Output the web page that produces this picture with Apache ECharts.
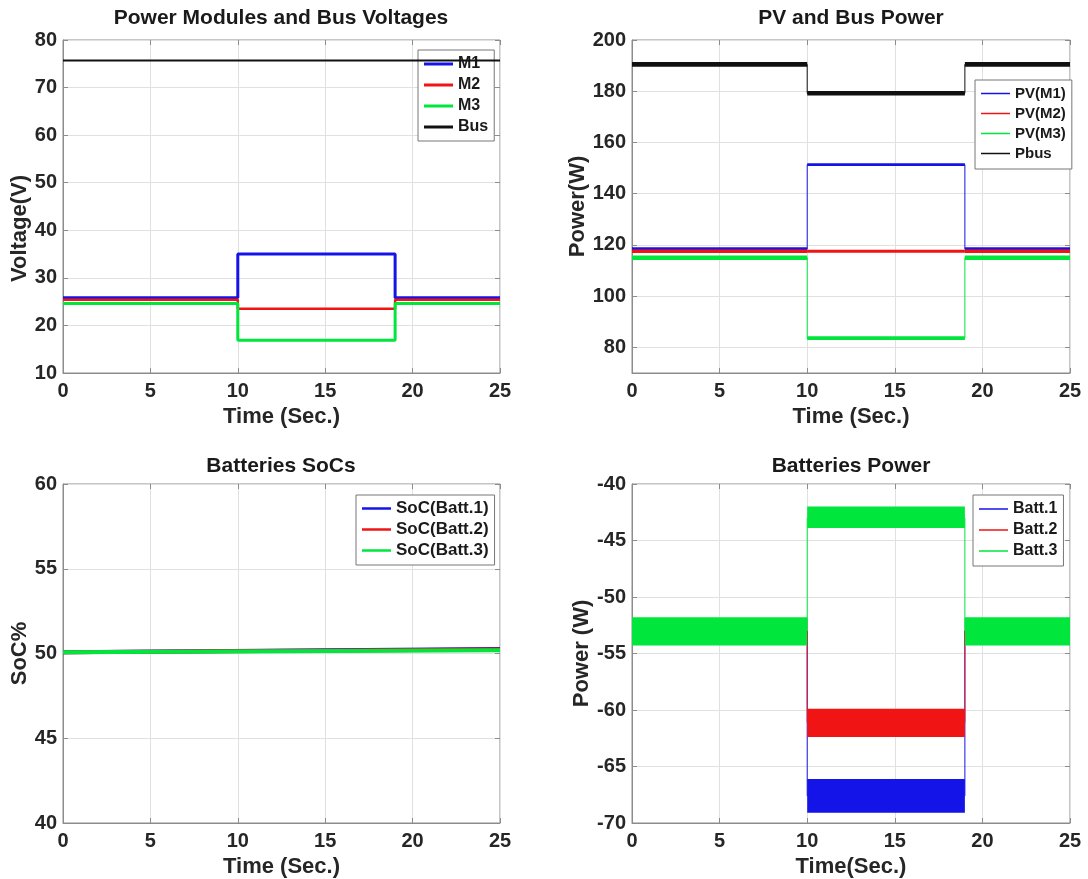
<!DOCTYPE html>
<html>
<head>
<meta charset="utf-8">
<script src="https://cdn.jsdelivr.net/npm/echarts@6/dist/echarts.min.js"></script>
<style>
html,body{margin:0;padding:0;background:#ffffff;}
#chart{width:1088px;height:879px;}
</style>
</head>
<body>
<div id="chart"></div>
<script>
// ---------------- DATA ----------------
const stepTimes = [0, 10, 19, 25];            // step change instants (s)

// Panel 1: Power Modules and Bus Voltages (V)
const m1Volt  = [25.8, 35.0, 25.8, 25.8];
const m2Volt  = [25.4, 23.5, 25.4, 25.4];
const m3Volt  = [24.6, 16.9, 24.6, 24.6];
const busVolt = [75.7, 75.7, 75.7, 75.7];

// Panel 2: PV and Bus Power (W) - mean levels and noise bands per segment
const pvM1 = [118.4, 151.3, 118.4, 118.4];
const pvM2 = [117.5, 117.5, 117.5, 117.5];
const pvM3 = [115.0, 83.6, 115.0, 115.0];
const pBus = [190.5, 179.2, 190.5, 190.5];
const pvM1Band = [[117.7, 119.1], [150.8, 151.9], [117.7, 119.1]];
const pvM2Band = [[116.8, 118.2], [116.9, 118.1], [116.8, 118.2]];
const pvM3Band = [[114.1, 115.9], [82.9, 84.3], [114.1, 115.9]];
const pBusBand = [[189.6, 191.4], [178.3, 180.1], [189.6, 191.4]];

// Panel 3: Batteries SoCs (%)
const socTimes = [0, 25];
const soc1 = [50.08, 50.26];
const soc2 = [50.08, 50.23];
const soc3 = [50.07, 50.19];

// Panel 4: Batteries Power (W) - mean levels and noise bands per segment
const batt1 = [-53.0, -67.6, -53.0, -53.0];
const batt2 = [-53.0, -61.1, -53.0, -53.0];
const batt3 = [-53.0, -43.0, -53.0, -53.0];
const batt1Band = [[-54.2, -51.9], [-69.1, -66.1], [-54.2, -51.9]];
const batt2Band = [[-54.2, -51.9], [-62.4, -59.9], [-54.2, -51.9]];
const batt3Band = [[-54.3, -51.8], [-43.9, -42.0], [-54.3, -51.8]];

// Axis tick settings
const timeAxis = {min: 0, max: 25, interval: 5};
const voltAxis = {min: 10, max: 80, interval: 10};
const pvAxis   = {min: 70, max: 200, step: 20};
const socAxis  = {min: 40, max: 60, interval: 5};
const battAxis = {min: -70, max: -40, interval: 5};

// ---------------- STYLE ----------------
const BLUE = '#1414e8', RED = '#f01414', GREEN = '#00e63c', BLACK = '#111111';
const TXT = '#262626', AXC = '#8c8c8c', GRIDC = '#e0e0e0';
const FONT = 'Liberation Sans, Arial, sans-serif';

const grids = [
  {left: 63,  top: 40,  width: 437, height: 333},
  {left: 632, top: 40,  width: 438, height: 333},
  {left: 63,  top: 484, width: 437, height: 340},
  {left: 632, top: 484, width: 438, height: 340}
].map(g => Object.assign({show: true, borderColor: AXC, borderWidth: 1, backgroundColor: '#fff'}, g));

function stepData(times, levels) { return times.map((t, i) => [t, levels[i]]); }
function bandData(times, band) { return band.map((b, i) => [times[i], times[i + 1], b[0], b[1]]); }

function xAx(idx, name) {
  return {
    type: 'value', gridIndex: idx, position: 'bottom', min: timeAxis.min, max: timeAxis.max, interval: timeAxis.interval,
    name: name, nameLocation: 'middle', nameGap: 33,
    nameTextStyle: {fontSize: 22, fontWeight: 'bold', color: TXT, fontFamily: FONT},
    axisLine: {show: true, onZero: false, lineStyle: {color: AXC}},
    axisTick: {show: true, inside: true, length: 5, lineStyle: {color: AXC}},
    axisLabel: {fontSize: 20, fontWeight: 'bold', color: TXT, margin: 8, fontFamily: FONT},
    splitLine: {show: true, lineStyle: {color: GRIDC, width: 1}}
  };
}
// mirror axis on the opposite side: inward ticks only (box style)
function xTop(idx) {
  return {
    type: 'value', gridIndex: idx, position: 'top', min: timeAxis.min, max: timeAxis.max, interval: timeAxis.interval,
    axisLine: {show: false, onZero: false}, axisLabel: {show: false}, splitLine: {show: false},
    axisTick: {show: true, inside: true, length: 5, lineStyle: {color: AXC}}
  };
}
function yAx(idx, name, cfg, gap, namePad) {
  const a = {
    type: 'value', gridIndex: idx, position: 'left', min: cfg.min, max: cfg.max,
    name: name, nameLocation: 'middle', nameGap: gap,
    nameTextStyle: {fontSize: 22, fontWeight: 'bold', color: TXT, fontFamily: FONT, padding: namePad || 0},
    axisLine: {show: true, onZero: false, lineStyle: {color: AXC}},
    axisTick: {show: true, inside: true, length: 5, lineStyle: {color: AXC}},
    axisLabel: {fontSize: 20, fontWeight: 'bold', color: TXT, margin: 6, fontFamily: FONT},
    splitLine: {show: true, lineStyle: {color: GRIDC, width: 1}}
  };
  if (cfg.interval) a.interval = cfg.interval;
  if (cfg.step) { a.minInterval = cfg.step; a.maxInterval = cfg.step; a.axisLabel.showMinLabel = false; }
  return a;
}
function yRight(idx, cfg) {
  const a = {
    type: 'value', gridIndex: idx, position: 'right', min: cfg.min, max: cfg.max,
    axisLine: {show: false, onZero: false}, axisLabel: {show: false}, splitLine: {show: false},
    axisTick: {show: true, inside: true, length: 5, lineStyle: {color: AXC}}
  };
  if (cfg.interval) a.interval = cfg.interval;
  if (cfg.step) { a.minInterval = cfg.step; a.maxInterval = cfg.step; }
  return a;
}

function lineSeries(name, idx, data, color, width) {
  return {
    name: name, type: 'line', xAxisIndex: idx, yAxisIndex: idx, data: data,
    step: 'end', symbol: 'none', showSymbol: false, animation: false, silent: true,
    lineStyle: {color: color, width: width}, itemStyle: {color: color}
  };
}
function linearSeries(name, idx, data, color, width) {
  const s = lineSeries(name, idx, data, color, width); s.step = false; return s;
}
function bandSeries(name, idx, data, color) {
  return {
    name: name, type: 'custom', xAxisIndex: idx, yAxisIndex: idx, data: data,
    animation: false, silent: true, encode: {x: [0, 1], y: [2, 3]},
    renderItem: function (params, api) {
      const p0 = api.coord([api.value(0), api.value(3)]);
      const p1 = api.coord([api.value(1), api.value(2)]);
      return {type: 'rect', shape: {x: p0[0], y: p0[1], width: p1[0] - p0[0], height: p1[1] - p0[1]},
              style: {fill: color}};
    }
  };
}

const titleStyle = {fontSize: 21, fontWeight: 'bold', color: '#1a1a1a', fontFamily: FONT};
function title(text, x, y) { return {text: text, left: x, top: y, textAlign: 'center', textStyle: titleStyle, padding: 0}; }

function legend(names, left, top, fs, gap, pad, lw) {
  return {
    data: names, orient: 'vertical', left: left, top: top, itemWidth: 29, itemHeight: lw, itemGap: gap,
    icon: 'rect', padding: pad, backgroundColor: '#fff', borderColor: '#777', borderWidth: 1, borderRadius: 0,
    selectedMode: false,
    textStyle: {fontSize: fs, fontWeight: 'bold', color: '#1a1a1a', fontFamily: FONT}
  };
}

const series = [
  // Panel 1
  lineSeries('M1', 0, stepData(stepTimes, m1Volt), BLUE, 3),
  lineSeries('M2', 0, stepData(stepTimes, m2Volt), RED, 2.5),
  lineSeries('M3', 0, stepData(stepTimes, m3Volt), GREEN, 3),
  lineSeries('Bus', 0, stepData(stepTimes, busVolt), BLACK, 2),
  // Panel 2
  bandSeries('PV(M1) noise', 1, bandData(stepTimes, pvM1Band), BLUE),
  lineSeries('PV(M1)', 1, stepData(stepTimes, pvM1), BLUE, 1),
  bandSeries('PV(M2) noise', 1, bandData(stepTimes, pvM2Band), RED),
  lineSeries('PV(M2)', 1, stepData(stepTimes, pvM2), RED, 1),
  bandSeries('PV(M3) noise', 1, bandData(stepTimes, pvM3Band), GREEN),
  lineSeries('PV(M3)', 1, stepData(stepTimes, pvM3), GREEN, 1),
  bandSeries('Pbus noise', 1, bandData(stepTimes, pBusBand), BLACK),
  lineSeries('Pbus', 1, stepData(stepTimes, pBus), BLACK, 1),
  // Panel 3
  linearSeries('SoC(Batt.1)', 2, stepData(socTimes, soc1), BLUE, 4),
  linearSeries('SoC(Batt.2)', 2, stepData(socTimes, soc2), RED, 4),
  linearSeries('SoC(Batt.3)', 2, stepData(socTimes, soc3), GREEN, 4),
  // Panel 4
  lineSeries('Batt.1', 3, stepData(stepTimes, batt1), BLUE, 1),
  bandSeries('Batt.1 noise', 3, bandData(stepTimes, batt1Band), BLUE),
  lineSeries('Batt.2', 3, stepData(stepTimes, batt2), RED, 1),
  bandSeries('Batt.2 noise', 3, bandData(stepTimes, batt2Band), RED),
  lineSeries('Batt.3', 3, stepData(stepTimes, batt3), GREEN, 1),
  bandSeries('Batt.3 noise', 3, bandData(stepTimes, batt3Band), GREEN)
];
series.forEach((s, i) => { s.z = 2 + i; });

const option = {
  animation: false,
  backgroundColor: '#ffffff',
  title: [
    title('Power Modules and Bus Voltages', 281, 8),
    title('PV and Bus Power', 851, 8),
    title('Batteries SoCs', 281, 456),
    title('Batteries Power', 851, 456)
  ],
  grid: grids,
  xAxis: [xAx(0, 'Time (Sec.)'), xAx(1, 'Time (Sec.)'), xAx(2, 'Time (Sec.)'), xAx(3, 'Time(Sec.)'),
          xTop(0), xTop(1), xTop(2), xTop(3)],
  yAxis: [yAx(0, 'Voltage(V)', voltAxis, 30, [0, 44, 0, 0]), yAx(1, 'Power(W)', pvAxis, 31),
          yAx(2, 'SoC%', socAxis, 30), yAx(3, 'Power (W)', battAxis, 31),
          yRight(0, voltAxis), yRight(1, pvAxis), yRight(2, socAxis), yRight(3, battAxis)],
  legend: [
    legend(['M1', 'M2', 'M3', 'Bus'], 418, 50, 16, 5, [6, 6, 6, 6], 3),
    legend(['PV(M1)', 'PV(M2)', 'PV(M3)', 'Pbus'], 975, 80, 15, 5, [6, 6, 8, 6], 1.5),
    legend(['SoC(Batt.1)', 'SoC(Batt.2)', 'SoC(Batt.3)'], 356, 495, 17, 4, [5, 6, 6, 6], 2.5),
    legend(['Batt.1', 'Batt.2', 'Batt.3'], 973, 495, 16, 5, [6, 6, 7, 6], 1.5)
  ],
  series: series
};

const chart = echarts.init(document.getElementById('chart'), null, {renderer: 'canvas'});
chart.setOption(option);
</script>
</body>
</html>
